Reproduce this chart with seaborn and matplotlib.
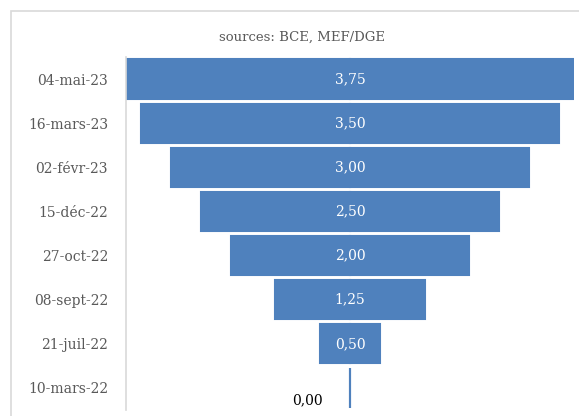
import matplotlib
matplotlib.use("Agg")
import matplotlib.pyplot as plt
import seaborn as sns
import pandas as pd
from matplotlib.patches import Rectangle

dates = ["04-mai-23", "16-mars-23", "02-févr-23", "15-déc-22",
         "27-oct-22", "08-sept-22", "21-juil-22", "10-mars-22"]
rates = [3.75, 3.50, 3.00, 2.50, 2.00, 1.25, 0.50, 0.00]
title = "sources: BCE, MEF/DGE"

sns.set_theme(style="white")
plt.rcParams["font.family"] = ["DejaVu Serif"]

bar_color = "#4F81BD"
grey = "#595959"

df = pd.DataFrame({"date": dates, "rate": rates})
df["right"] = df["rate"] / 2
df["left"] = -df["rate"] / 2

W, H = 579, 416
fig = plt.figure(figsize=(W / 100, H / 100), dpi=100)
ax = fig.add_axes([126 / W, 1 - 410 / H, (574 - 126) / W, (410 - 57) / H])

for col in ["right", "left"]:
    sns.barplot(data=df, x=col, y="date", order=dates, color=bar_color,
                saturation=1, width=0.89, edgecolor=bar_color, linewidth=1.5,
                ax=ax)

half = max(rates) / 2
ax.set_xlim(-half, half)
ax.set_ylim(len(dates) - 0.5, -0.5)

for i, v in enumerate(rates):
    lab = f"{v:.2f}".replace(".", ",")
    if v > 0:
        ax.text(0, i, lab, ha="center", va="center", color="white", fontsize=10)
    else:
        ax.text(-0.36, i + 0.27, lab, ha="center", va="center", color="black",
                fontsize=10)

ax.set_xlabel("")
ax.set_ylabel("")
ax.set_xticks([])
ax.tick_params(axis="y", length=0, pad=13, labelsize=10, labelcolor=grey)
for s in ["top", "right", "bottom"]:
    ax.spines[s].set_visible(False)
ax.spines["left"].set_color("#D9D9D9")
ax.spines["left"].set_linewidth(1.2)

fig.text(302 / W, 1 - 37 / H, title, ha="center", va="center",
         color=grey, fontsize=9.5)

frame = Rectangle((11 / W, -0.2), 1.2, 0.2 + 1 - 11 / H,
                  transform=fig.transFigure, fill=False,
                  edgecolor="#D9D9D9", linewidth=1.2, clip_on=False)
fig.add_artist(frame)

fig.savefig("out.png", dpi=100, facecolor="white")
